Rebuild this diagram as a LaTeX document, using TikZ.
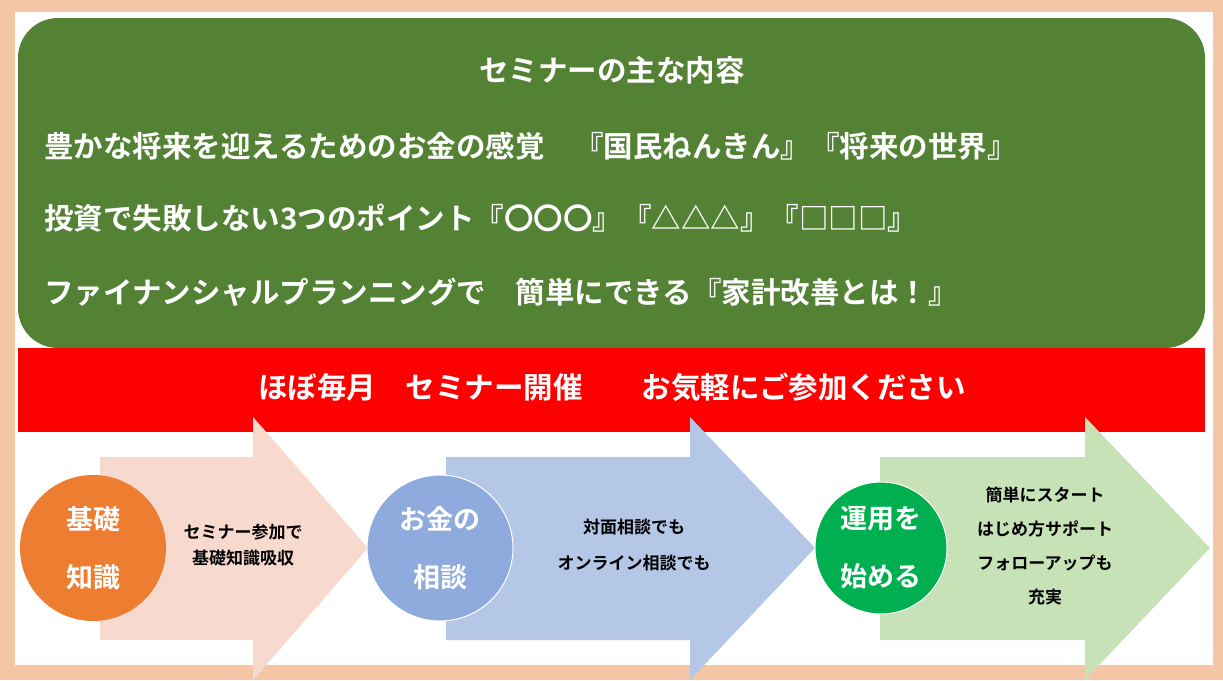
\documentclass[tikz,border=0pt]{standalone}
\usepackage{fontspec}
\newfontfamily\jp{Noto Sans CJK JP}[BoldFont={* Bold}]
\definecolor{frame}{HTML}{F5C6A5}
\definecolor{grn}{HTML}{548235}
\definecolor{pinkA}{HTML}{F8D9CD}
\definecolor{blueA}{HTML}{B4C7E7}
\definecolor{greenA}{HTML}{C8E2B8}
\definecolor{orgC}{HTML}{ED7D31}
\definecolor{bluC}{HTML}{8FAADC}
\definecolor{grnC}{HTML}{00B050}
\begin{document}
\begin{tikzpicture}[x=1pt,y=-1pt,
  big/.style={text=white,font=\jp\bfseries\fontsize{29.5}{32}\selectfont,inner sep=0pt},
  title/.style={big,anchor=west},
  circ/.style={circle,minimum size=#1,text=white,font=\jp\bfseries\fontsize{27}{58}\selectfont,align=center},
  desc/.style={font=\jp\bfseries\fontsize{17}{#1}\selectfont,align=center}]
\useasboundingbox (0,0) rectangle (1223,680);
\fill[frame] (0,0) rectangle (1223,680);
\fill[white] (15,12) rectangle (1213,665);
\fill[grn,rounded corners=40pt] (18,18) rectangle (1205,348);
\fill[red] (18,348) rectangle (1205,432);
\begin{scope}
\clip (0,0) rectangle (1223,680);
\fill[pinkA] (100,457) -- (253,457) -- (253,417) -- (368,548) -- (253,680) -- (253,640) -- (100,640) -- cycle;
\fill[blueA] (446,457) -- (690,457) -- (690,417) -- (815,548) -- (690,680) -- (690,640) -- (446,640) -- cycle;
\fill[greenA] (880,457) -- (1085,457) -- (1085,417) -- (1210,548) -- (1085,680) -- (1085,640) -- (880,640) -- cycle;
\end{scope}
\node[big] (t0) at (612,70) {セミナーの主な内容};
\node[title] (t1) at (44,146) {豊かな将来を迎えるためのお金の感覚　『国民ねんきん』『将来の世界』};
\node[title] (t2) at (44,218) {投資で失敗しない3つのポイント『〇〇〇』『△△△』『□□□』};
\node[title] (t3) at (44,292) {ファイナンシャルプランニングで　簡単にできる『家計改善とは！』};
\node[big] (band) at (612,387) {ほぼ毎月　セミナー開催　　お気軽にご参加ください};
\fill[orgC] (93,548) circle (73);
\fill[bluC] (440,548) circle (73);
\draw[white,line width=1pt] (440,548) circle (73);
\fill[grnC] (881,548) circle (66);
\draw[white,line width=1pt] (881,548) circle (66);
\node[circ=146pt] (c1) at (93,548) {基礎\\知識};
\node[circ=146pt] (c2) at (440,548) {お金の\\相談};
\node[circ=132pt] (c3) at (881,548) {運用を\\始める};
\node[desc=26] (d1) at (243,545) {セミナー参加で\\基礎知識吸収};
\node[desc=36] (d2) at (634,545) {対面相談でも\\オンライン相談でも};
\node[desc=34] (d3) at (1045,546) {簡単にスタート\\はじめ方サポート\\フォローアップも\\充実};
\end{tikzpicture}
\end{document}
